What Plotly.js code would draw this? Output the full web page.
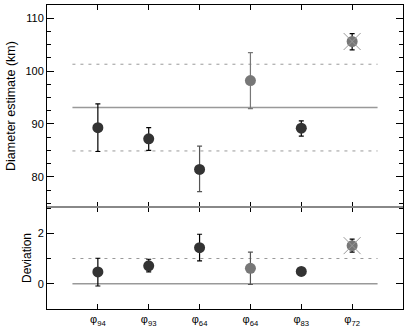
<!DOCTYPE html>
<html>
<head>
<meta charset="utf-8">
<script src="https://cdn.plot.ly/plotly-3.0.1.min.js"></script>
<style>html,body{margin:0;padding:0;background:#fff;}#chart{width:407px;height:330px;}</style>
</head>
<body>
<div id="chart"></div>
<script>
// ---- data ----
const catLabels = ['φ<sub>94</sub>', 'φ<sub>93</sub>', 'φ<sub>64</sub>', 'φ<sub>64</sub>', 'φ<sub>83</sub>', 'φ<sub>72</sub>'];
const catPos = [1, 2, 3, 4, 5, 6];
const diam   = [89.3, 87.2, 81.4, 98.2, 89.2, 105.6];
const diamHi = [93.8, 89.3, 85.8, 103.5, 90.6, 107.1];
const diamLo = [84.8, 85.0, 77.2, 92.9, 87.7, 104.0];
const dev    = [0.47, 0.71, 1.43, 0.61, 0.49, 1.51];
const devHi  = [1.01, 0.97, 1.96, 1.25, 0.58, 1.77];
const devLo  = [-0.09, 0.47, 0.91, -0.03, 0.40, 1.25];
const grayPoint = [false, false, false, true, false, true];
const crossed   = [false, false, false, false, false, true];
const diamMean = 93.1, diamUpper = 101.3, diamLower = 84.9;
const devMean = 0, devLimit = 1;

// ---- styling ----
const darkCol = '#333333', grayCol = '#777777';
const errColTop = ['#000', '#000', '#555', '#777', '#000', '#000'];
const errColBot = ['#000', '#000', '#000', '#555', '#000', '#000'];
const traces = [];
const x0 = catPos[0] - 0.5, x1 = catPos[catPos.length - 1] + 0.5;

function hline(y, dash, width, xa, ya) {
  traces.push({x: [x0, x1], y: [y, y], mode: 'lines', xaxis: xa, yaxis: ya,
    line: {color: '#999', width: width, dash: dash}, hoverinfo: 'skip'});
}
hline(diamMean, 'solid', 1.5, 'x2', 'y');
hline(diamUpper, '3px,5px', 1, 'x2', 'y');
hline(diamLower, '3px,5px', 1, 'x2', 'y');
hline(devMean, 'solid', 1.5, 'x', 'y2');
hline(devLimit, '3px,5px', 1, 'x', 'y2');

function pts(vals, hi, lo, errCols, xa, ya) {
  for (let i = 0; i < vals.length; i++) {
    traces.push({x: [catPos[i]], y: [vals[i]], mode: 'markers', xaxis: xa, yaxis: ya,
      marker: {size: 11, color: grayPoint[i] ? grayCol : darkCol},
      error_y: {type: 'data', symmetric: false, array: [hi[i] - vals[i]], arrayminus: [vals[i] - lo[i]],
        color: errCols[i], thickness: 1.2, width: 2.5}});
    if (crossed[i]) {
      traces.push({x: [catPos[i]], y: [vals[i]], mode: 'markers', xaxis: xa, yaxis: ya,
        marker: {symbol: 'x-thin', size: 17, line: {color: '#999', width: 1}}});
    }
  }
}
pts(diam, diamHi, diamLo, errColTop, 'x2', 'y');
pts(dev, devHi, devLo, errColBot, 'x', 'y2');

const fontFam = 'Liberation Sans, Arial, sans-serif';
const split = 102 / 304;
const layout = {
  width: 407, height: 330,
  margin: {l: 47, r: 4, t: 5, b: 21},
  showlegend: false,
  paper_bgcolor: '#fff', plot_bgcolor: '#fff',
  font: {family: fontFam, size: 11, color: '#000'},
  xaxis: {domain: [0, 1], anchor: 'y2', range: [0, 7], tickvals: catPos, ticktext: catLabels,
    ticks: 'inside', ticklen: 5, tickcolor: '#000', showline: true, linecolor: '#000', linewidth: 1,
    mirror: 'ticks', showgrid: false, zeroline: false, tickfont: {size: 11, color: '#000'}},
  xaxis2: {domain: [0, 1], anchor: 'y', matches: 'x', range: [0, 7], tickvals: catPos,
    ticks: 'inside', ticklen: 5, tickcolor: '#000', showline: true, linecolor: '#000', linewidth: 1,
    mirror: 'ticks', showgrid: false, zeroline: false, showticklabels: false},
  yaxis: {domain: [split, 1], anchor: 'x2', range: [74.3, 112.5], tickvals: [80, 90, 100, 110],
    ticks: 'inside', ticklen: 7, tickcolor: '#000', showline: true, linecolor: '#000', linewidth: 1,
    mirror: 'ticks', showgrid: false, zeroline: false,
    minor: {dtick: 2.5, tick0: 0, ticks: 'inside', ticklen: 4, tickcolor: '#000', showgrid: false},
    title: {text: 'Diameter estimate (km)', font: {size: 12.5}, standoff: 7}},
  yaxis2: {domain: [0, split], anchor: 'x', range: [-1, 3.04], tickvals: [0, 2],
    ticks: 'inside', ticklen: 7, tickcolor: '#000', showline: true, linecolor: '#000', linewidth: 1,
    mirror: 'ticks', showgrid: false, zeroline: false,
    minor: {dtick: 1, tick0: 0, ticks: 'inside', ticklen: 4, tickcolor: '#000', showgrid: false},
    title: {text: 'Deviation', font: {size: 12}, standoff: 3}},
  shapes: [{type: 'line', xref: 'paper', yref: 'paper', x0: 0, x1: 1, y0: split, y1: split,
    line: {color: '#888', width: 2}}]
};
Plotly.newPlot('chart', traces, layout, {displayModeBar: false, staticPlot: true});
</script>
</body>
</html>
